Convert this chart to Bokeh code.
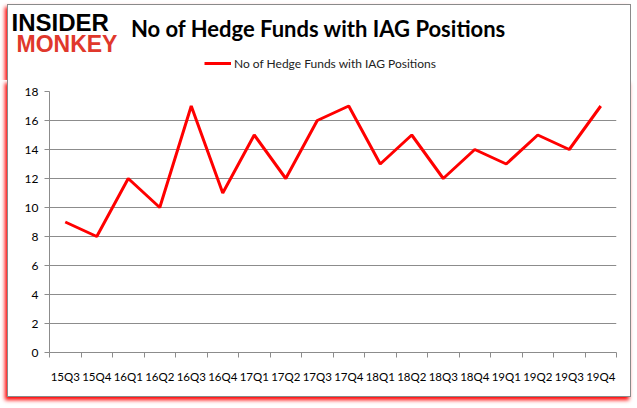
from bokeh.plotting import figure
from bokeh.models import Range1d, FixedTicker, Label, Legend, LegendItem, Spacer
from bokeh.layouts import column, row
from bokeh.embed import file_html
from bokeh.resources import INLINE

quarters = ["15Q3", "15Q4", "16Q1", "16Q2", "16Q3", "16Q4", "17Q1", "17Q2", "17Q3",
            "17Q4", "18Q1", "18Q2", "18Q3", "18Q4", "19Q1", "19Q2", "19Q3", "19Q4"]
funds = [9, 8, 12, 10, 17, 11, 15, 12, 16, 17, 13, 15, 12, 14, 13, 15, 14, 17]
y_ticks = [0, 2, 4, 6, 8, 10, 12, 14, 16, 18]
title_text = "No of Hedge Funds with IAG Positions"
series_name = "No of Hedge Funds with IAG Positions"

n = len(quarters)
xs = [i + 0.5 for i in range(n)]

GRAY = "#8c8c8c"
BORDER = "1px solid #8a8a8a"
SHADOW = "-2px 3px 4px #ff0000"
FONT = "Lato"
LINE_COLOR = "#ff0000"
W = 624
H_HEAD = 76
H_MAIN = 317

# ---------- header (title, logo, legend) ----------
head = figure(width=W, height=H_HEAD, output_backend="svg", toolbar_location=None,
              x_axis_location=None, y_axis_location=None,
              x_range=Range1d(0, n), y_range=Range1d(100, 101),
              min_border_left=0, min_border_right=0, min_border_top=0, min_border_bottom=0)
head.outline_line_color = None
head.grid.visible = False
head.background_fill_color = "white"
head.border_fill_color = "white"
head.styles = {"border-top": BORDER, "border-left": BORDER, "border-right": BORDER,
               "box-shadow": SHADOW, "clip-path": "inset(-10px 0px 0px -10px)"}
# same series, outside the header's visible range: only used for the legend swatch
hr = head.line(xs, funds, line_color=LINE_COLOR, line_width=3)

legend = Legend(items=[LegendItem(label=series_name, renderers=[hr])], location=(196, 10))
legend.border_line_color = None
legend.background_fill_alpha = 0
legend.padding = 0
legend.margin = 0
legend.glyph_width = 27
legend.glyph_height = 16
legend.label_height = 16
legend.label_standoff = 3
legend.label_text_font = FONT
legend.label_text_font_size = "12px"
legend.label_text_color = "#222222"
head.add_layout(legend)

head.add_layout(Label(x=310, y=53, x_units="screen", y_units="screen", text=title_text,
                      text_font=FONT, text_font_style="bold", text_font_size="22px",
                      text_align="center", text_baseline="alphabetic", text_color="black"))
head.add_layout(Label(x=3, y=59, x_units="screen", y_units="screen", text="INSIDER",
                      text_font="Liberation Sans", text_font_style="bold", text_font_size="24px",
                      text_align="left", text_baseline="alphabetic", text_color="black"))
head.add_layout(Label(x=8, y=38, x_units="screen", y_units="screen", text="MONKEY",
                      text_font="Liberation Sans", text_font_style="bold", text_font_size="23px",
                      text_align="left", text_baseline="alphabetic", text_color="#e0382c"))

# ---------- main chart ----------
p = figure(width=W, height=H_MAIN, output_backend="svg", toolbar_location=None,
           x_range=Range1d(0, n), y_range=Range1d(0, 18),
           min_border_left=41, min_border_right=16, min_border_top=11, min_border_bottom=45)
p.outline_line_color = None
p.background_fill_color = "white"
p.border_fill_color = "white"
p.styles = {"border-bottom": BORDER, "border-left": BORDER, "border-right": BORDER,
            "box-shadow": SHADOW, "clip-path": "inset(0px -10px -10px -10px)"}

r = p.line(xs, funds, line_color=LINE_COLOR, line_width=3)

xa = p.xaxis[0]
xa.ticker = FixedTicker(ticks=xs, minor_ticks=list(range(n + 1)))
xa.major_label_overrides = {x: q for x, q in zip(xs, quarters)}
xa.major_tick_line_color = None
xa.major_tick_out = 0
xa.major_tick_in = 0
xa.minor_tick_line_color = GRAY
xa.minor_tick_out = 5
xa.minor_tick_in = 0
xa.axis_line_color = GRAY
xa.major_label_standoff = 12
xa.major_label_text_font = FONT
xa.major_label_text_font_size = "11.5px"
xa.major_label_text_color = "black"

ya = p.yaxis[0]
ya.ticker = FixedTicker(ticks=y_ticks)
ya.major_tick_line_color = GRAY
ya.major_tick_out = 5
ya.major_tick_in = 0
ya.minor_tick_line_color = None
ya.axis_line_color = GRAY
ya.major_label_standoff = 6
ya.major_label_text_font = FONT
ya.major_label_text_font_size = "12px"
ya.major_label_text_color = "black"

p.xgrid.visible = False
p.ygrid.ticker = FixedTicker(ticks=y_ticks)
p.ygrid.grid_line_color = GRAY

top_root = column(Spacer(width=W, height=4), row(Spacer(width=7, height=H_HEAD), head))
bottom_root = row(Spacer(width=7, height=H_MAIN), p)
open("out.html", "w").write(file_html([top_root, bottom_root], INLINE))
